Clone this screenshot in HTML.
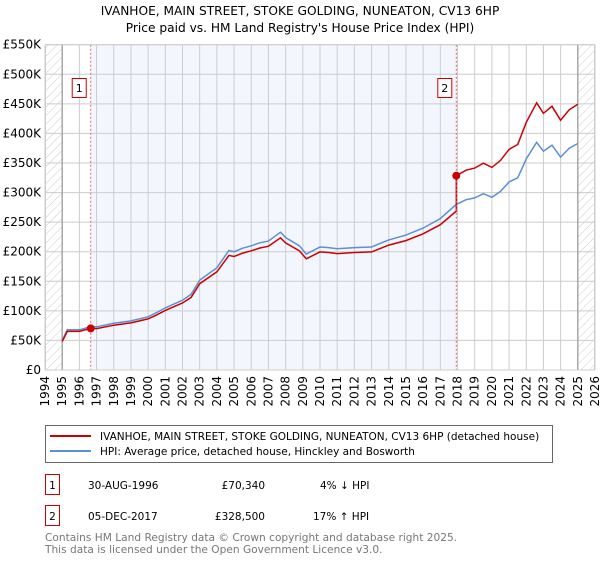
<!DOCTYPE html>
<html><head><meta charset="utf-8"><style>
body{margin:0;background:#fff;width:600px;height:560px;overflow:hidden;font-family:"DejaVu Sans","Liberation Sans",sans-serif}
svg text{font-family:"DejaVu Sans","Liberation Sans",sans-serif}
</style></head><body>
<svg id="chart" width="600" height="560" xmlns="http://www.w3.org/2000/svg">
<defs><pattern id="hatch" patternUnits="userSpaceOnUse" width="6" height="6" patternTransform="rotate(45)"><line x1="0" y1="0" x2="0" y2="6" stroke="#ccc" stroke-width="1"/></pattern></defs>
<text x="300" y="15" text-anchor="middle" font-size="12.2">IVANHOE, MAIN STREET, STOKE GOLDING, NUNEATON, CV13 6HP</text>
<text x="300" y="32" text-anchor="middle" font-size="12.2">Price paid vs. HM Land Registry's House Price Index (HPI)</text>
<g id="plot"></g>
<g>
<rect x="45.5" y="425.5" width="507" height="37" fill="#fff" stroke="#666"/>
<line x1="50" y1="436" x2="91" y2="436" stroke="#cc0000" stroke-width="2"/>
<text x="100" y="440" font-size="10.5">IVANHOE, MAIN STREET, STOKE GOLDING, NUNEATON, CV13 6HP (detached house)</text>
<line x1="50" y1="451" x2="91" y2="451" stroke="#5b8fd6" stroke-width="2"/>
<text x="100" y="455" font-size="10.5">HPI: Average price, detached house, Hinckley and Bosworth</text>
</g>
<g font-size="10.5">
<rect x="45.5" y="474.5" width="14" height="20" fill="#fff" stroke="#cc0000"/>
<text x="52.5" y="489" text-anchor="middle">1</text>
<text x="88" y="489">30-AUG-1996</text>
<text x="265" y="489" text-anchor="end">£70,340</text>
<text x="320" y="489">4% ↓ HPI</text>
</g>
<g font-size="10.5">
<rect x="45.5" y="505.5" width="14" height="20" fill="#fff" stroke="#cc0000"/>
<text x="52.5" y="520" text-anchor="middle">2</text>
<text x="88" y="520">05-DEC-2017</text>
<text x="265" y="520" text-anchor="end">£328,500</text>
<text x="313" y="520">17% ↑ HPI</text>
</g>
<text x="45" y="541" font-size="10.6" fill="#777">Contains HM Land Registry data © Crown copyright and database right 2025.</text>
<text x="45" y="553" font-size="10.6" fill="#777">This data is licensed under the Open Government Licence v3.0.</text>
</svg>
<script>
const hpiYears=[1995.0,1995.3,1996.0,1996.66,1997.0,1998.0,1999.0,2000.0,2000.5,2001.0,2002.0,2002.5,2003.0,2004.0,2004.7,2005.0,2005.5,2006.0,2006.5,2007.0,2007.7,2008.0,2008.8,2009.2,2010.0,2010.5,2011.0,2012.0,2013.0,2014.0,2015.0,2016.0,2017.0,2017.93,2018.5,2019.0,2019.5,2020.0,2020.5,2021.0,2021.5,2022.0,2022.6,2023.0,2023.5,2024.0,2024.5,2025.0];
const hpiValues=[50,68,68,73.3,73,79,83,90,97,105,118,128,152,173,202,200,206,210,215,218,233,224,210,196,208,207,205,207,208,220,228,240,256,280,288,291,298,292,302,318,325,357,385,370,380,360,375,383];
const sales=[{year:1996.66,price:70.34,label:"1"},{year:2017.93,price:328.5,label:"2"}];
const yTicks=[0,50,100,150,200,250,300,350,400,450,500,550];
const xTicks=[1994,1995,1996,1997,1998,1999,2000,2001,2002,2003,2004,2005,2006,2007,2008,2009,2010,2011,2012,2013,2014,2015,2016,2017,2018,2019,2020,2021,2022,2023,2024,2025,2026];
const L=45,R=595,T=44.7,B=370;
const X=y=>L+(y-1994)/(2026-1994)*(R-L);
const Y=v=>B-v/550*(B-T);
const NS="http://www.w3.org/2000/svg";
const g=document.getElementById('plot');
function mk(t,a){const e=document.createElementNS(NS,t);for(const k in a)e.setAttribute(k,a[k]);g.appendChild(e);return e;}
let e;
e=mk('rect',{x:L,y:T,width:R-L,height:B-T,fill:'#fff'});


e=mk('rect',{x:X(sales[0].year),y:T,width:X(sales[1].year)-X(sales[0].year),height:B-T,fill:'#eef3fc',opacity:0.7});


e=mk('rect',{x:L,y:T,width:X(1995)-L,height:B-T,fill:'url(#hatch)'});


e=mk('rect',{x:X(2025),y:T,width:R-X(2025),height:B-T,fill:'url(#hatch)'});


yTicks.forEach(v=>{
 e=mk('line',{x1:L,x2:R,y1:Y(v),y2:Y(v),stroke:'#ccc','stroke-width':1});
 
 
 e=mk('text',{x:L-4,y:Y(v)+4,'text-anchor':'end','font-size':12});
 e.textContent=v===0?'£0':'£'+v+'K';
 
 
});
xTicks.forEach(yr=>{
 e=mk('line',{x1:X(yr),x2:X(yr),y1:T,y2:B,stroke:'#ccc','stroke-width':1});
 
 
 e=mk('text',{x:0,y:0,'text-anchor':'end','font-size':12,transform:`translate(${X(yr)+4},${B+6}) rotate(-90)`});
 e.textContent=yr;
 
 
});
[1995,2025].forEach(yr=>{
 e=mk('line',{x1:X(yr),x2:X(yr),y1:T,y2:B,stroke:'#999','stroke-width':1.2});
 
 
});
function hpiAt(y){for(let i=1;i<hpiYears.length;i++){if(y<=hpiYears[i]){const t=(y-hpiYears[i-1])/(hpiYears[i]-hpiYears[i-1]);return hpiValues[i-1]+t*(hpiValues[i]-hpiValues[i-1]);}}return hpiValues[hpiValues.length-1];}
const f1=sales[0].price/hpiAt(sales[0].year), f2=sales[1].price/hpiAt(sales[1].year);
let hp='',rp='';
hpiYears.forEach((yr,i)=>{hp+=(i?'L':'M')+X(yr).toFixed(1)+','+Y(hpiValues[i]).toFixed(1);});
const redPts=[];
hpiYears.forEach((yr,i)=>{if(yr<sales[1].year)redPts.push([yr,hpiValues[i]*f1]);});
redPts.push([sales[1].year,hpiAt(sales[1].year)*f1]);
redPts.push([sales[1].year,sales[1].price]);
hpiYears.forEach((yr,i)=>{if(yr>sales[1].year)redPts.push([yr,hpiValues[i]*f2]);});
redPts.forEach((p,i)=>{rp+=(i?'L':'M')+X(p[0]).toFixed(1)+','+Y(p[1]).toFixed(1);});
e=mk('path',{d:hp,fill:'none',stroke:'#5b8fd6','stroke-width':1.5});


e=mk('path',{d:rp,fill:'none',stroke:'#cc0000','stroke-width':1.5});


sales.forEach(s=>{
 e=mk('line',{x1:X(s.year),x2:X(s.year),y1:T,y2:B,stroke:'#e06060','stroke-width':1,'stroke-dasharray':'2,2'});
 
 
 e=mk('circle',{cx:X(s.year),cy:Y(s.price),r:4,fill:'#cc0000'});
 
 
 e=mk('rect',{x:X(s.year)-18.5,y:78.5,width:14,height:19,fill:'#fff',stroke:'#cc0000'});
 
 
 e=mk('text',{x:X(s.year)-11.5,y:92,'text-anchor':'middle','font-size':11});
 e.textContent=s.label;
 
 
});
e=mk('rect',{x:L+0.5,y:T,width:R-L-1,height:B-T,fill:'none',stroke:'#ccc'});


</script>
</body></html>
